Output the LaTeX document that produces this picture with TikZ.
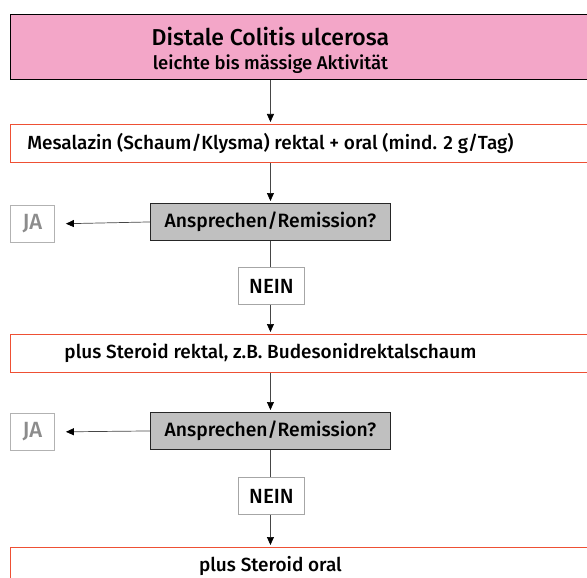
\documentclass[tikz,border=0pt]{standalone}
\usepackage{fontspec}
\setmainfont{Fira Sans}[UprightFont={* Medium}]
\usetikzlibrary{positioning}
\usetikzlibrary{arrows.meta}

\definecolor{titlepink}{RGB}{243,166,200}
\definecolor{stepred}{RGB}{238,80,52}
\definecolor{askgray}{RGB}{192,192,192}
\definecolor{linegray}{RGB}{70,70,70}

% text centred on the flow axis, box runs on past the right edge
\newcommand{\axistext}[1]{\makebox[520pt][c]{#1}\hspace*{70pt}}

\tikzset{
  titlebox/.style={draw=black, fill=titlepink, line width=0.9pt, minimum width=590pt,
    minimum height=65pt, inner sep=0pt, anchor=north west},
  stepbox/.style={draw=stepred, line width=0.9pt, minimum width=590pt, minimum height=38pt,
    inner sep=0pt, anchor=north west, font=\fontsize{19}{22}\selectfont},
  askbox/.style={draw=black!85, fill=askgray, line width=0.9pt, minimum width=240pt,
    minimum height=37pt, inner sep=0pt, anchor=north west, font=\fontsize{19.3}{22}\selectfont},
  jabox/.style={draw=black!30, text=black!45, line width=0.9pt, minimum width=44pt,
    minimum height=37pt, inner sep=0pt, anchor=north west, font=\fontsize{22}{25}\selectfont},
  neinbox/.style={draw=black!35, line width=0.9pt, minimum width=66pt,
    minimum height=37pt, inner sep=0pt, anchor=north west, font=\fontsize{20.5}{23}\selectfont},
  flow/.style={draw=linegray, line width=0.7pt},
  arr/.style={flow, -{Triangle[length=8pt,width=7pt,color=black]}, shorten >=2pt},
}

\begin{document}
\begin{tikzpicture}[x=1pt, y=-1pt]

\useasboundingbox (0,0) rectangle (587,578);
\clip (0,0) rectangle (587,578);

% boxes
\node[titlebox] (title) at (10,14)
{\axistext{\begin{tabular}{@{}c@{}}\rule{0pt}{25pt}{\fontsize{23}{26}\selectfont Distale Colitis ulcerosa}\\[5pt]
{\fontsize{18.5}{22}\selectfont leichte bis mässige Aktivität}\end{tabular}}};

\node[stepbox] (mesa) at (10,124)
{\axistext{Mesalazin (Schaum/Klysma) rektal + oral (mind. 2 g/Tag)}};

\node[askbox] (ask1) at (150,203) {Ansprechen/Remission?};
\node[jabox] (ja1) at (10,205) {JA};
\node[neinbox] (nein1) at (238,267) {NEIN};

\node[stepbox] (rekt) at (10,334)
{\axistext{plus Steroid rektal, z.B. Budesonidrektalschaum}};

\node[askbox] (ask2) at (150,412) {Ansprechen/Remission?};
\node[jabox] (ja2) at (10,413) {JA};
\node[neinbox] (nein2) at (238,477) {NEIN};

\node[stepbox] (oral) at (10,547)
{\axistext{plus Steroid oral}};

% connectors
\draw[arr] (ask1 |- title.south) -- (ask1 |- mesa.north);
\draw[arr] (ask1 |- mesa.south) -- (ask1.north);
\draw[arr, shorten >=11pt] (ask1.west) -- (ja1.east);
\draw[flow] (ask1.south) -- (ask1.south |- nein1.north);
\draw[arr] (ask1.south |- nein1.south) -- (ask1 |- rekt.north);

\draw[arr] (ask2 |- rekt.south) -- (ask2.north);
\draw[arr, shorten >=11pt] (ask2.west) -- (ja2.east);
\draw[flow] (ask2.south) -- (ask2.south |- nein2.north);
\draw[arr] (ask2.south |- nein2.south) -- (ask2 |- oral.north);

\end{tikzpicture}
\end{document}
